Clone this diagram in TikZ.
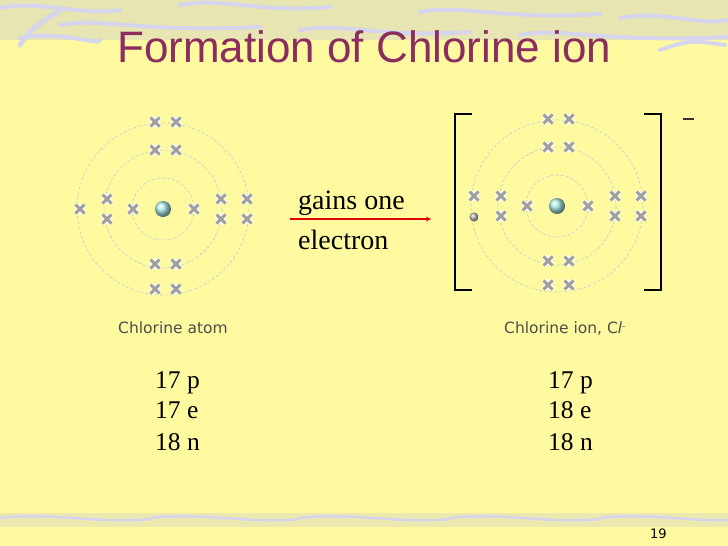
\documentclass[tikz,border=0pt]{standalone}
\usepackage{fontspec}
\setmainfont{Liberation Serif}
\newfontfamily\sans{DejaVu Sans}
\newfontfamily\titlef{Liberation Sans}
\begin{document}
\begin{tikzpicture}[x=1pt,y=-1pt,
  orbit/.style={draw=cyan!30!gray!50, dashed, dash pattern=on 3pt off 2pt, line width=0.6pt},
  xmark/.pic={\draw[white,line width=5pt] (-4.5,-4.5)--(4.5,4.5) (-4.5,4.5)--(4.5,-4.5);
              \draw[gray!75,line width=3pt] (-4.5,-4.5)--(4.5,4.5) (-4.5,4.5)--(4.5,-4.5);},
  lbl/.style={font=\sans\fontsize{15.5}{18}\selectfont, text=black!70, anchor=base west, inner sep=0},
  num/.style={font=\fontsize{25.5}{28}\selectfont, anchor=base west, inner sep=0, align=left}]
\definecolor{bg}{RGB}{255,250,160}
\definecolor{band}{RGB}{215,215,190}
\definecolor{titlec}{RGB}{140,45,95}
\fill[bg] (0,0) rectangle (728,546);
\useasboundingbox (0,0) rectangle (728,546);
% top decorative band
\fill[band!60!bg] (0,0) rectangle (728,40);
\foreach \a/\b/\c in {0/8/120,60/25/260,180/5/330,300/30/470,420/12/600,520/35/728,620/18/728,20/38/100}{
  \draw[band!70!blue!40,line width=4pt,line cap=round] (\a,\b) .. controls (\a+40,\b-8) and (\a+80,\b+8) .. (\c,\b+2);}
\draw[band!70!blue!40,line width=5pt,line cap=round] (20,45) .. controls (30,30) .. (60,10);
\draw[band!70!blue!40,line width=4pt,line cap=round] (660,50) .. controls (690,40) .. (725,45);
% bottom band
\fill[band!50!bg] (0,513) rectangle (728,527);
\foreach \a in {0,150,300,450,600}{
  \draw[band!70!blue!40,line width=2.5pt,line cap=round] (\a,518) .. controls (\a+50,512) and (\a+100,524) .. (\a+150,519);}
% title
\node[font=\titlef\fontsize{44}{48}\selectfont, text=titlec, anchor=base west, inner sep=0] (title) at (117,62) {Formation of Chlorine ion};
% left atom
\coordinate (A) at (163,209);
\draw[orbit] (A) circle (31);
\draw[orbit] (A) circle (59);
\draw[orbit] (A) circle (86);
\shade[ball color=gray!40!cyan!40] (A) circle (8);
\foreach \p in {(133,209),(194,209),(155,150),(176,150),(155,264),(176,264),(107,199),(107,219),(221,199),(221,219),
  (155,122),(176,122),(80,209),(247,199),(247,219),(155,289),(176,289)}{\pic at \p {xmark};}
% right atom
\coordinate (B) at (557,206);
\draw[orbit] (B) circle (31);
\draw[orbit] (B) circle (59);
\draw[orbit] (B) circle (86);
\shade[ball color=gray!40!cyan!40] (B) circle (8);
\foreach \p in {(527,206),(588,206),(548,147),(569,147),(548,261),(569,261),(501,196),(501,216),(615,196),(615,216),
  (548,119),(569,119),(474,196),(641,196),(641,216),(548,285),(569,285)}{\pic at \p {xmark};}
\shade[ball color=gray!60] (474,217) circle (4.5);
% brackets
\draw[black,line width=2.4pt] (472,114) -- (455,114) -- (455,290) -- (472,290);
\draw[black,line width=2.4pt] (644,114) -- (661,114) -- (661,290) -- (644,290);
\draw[black!80,line width=2.5pt] (683,119) -- (694,119);
% arrow
\node[font=\fontsize{28}{30}\selectfont, anchor=base west, inner sep=0] (g1) at (298,209) {gains one};
\node[font=\fontsize{28}{30}\selectfont, anchor=base west, inner sep=0] (g2) at (298,249) {electron};
\coordinate (a1) at (290,219); \coordinate (a2) at (431,219);
\draw[red!85!black, line width=1.2pt, -stealth] (a1) -- (a2);
% labels
\node[lbl] (la) at (118,333) {Chlorine atom};
\node[lbl] (lb) at (504,333) {Chlorine ion, C\textit{l}\raisebox{4pt}{\fontsize{9}{9}\selectfont -}};
\node[num] (n1) at (155,388) {17 p};
\node[num] (n2) at (155,418) {17 e};
\node[num] (n3) at (155,450) {18 n};
\node[num] (m1) at (548,388) {17 p};
\node[num] (m2) at (548,418) {18 e};
\node[num] (m3) at (548,450) {18 n};
\node[font=\sans\fontsize{13}{14}\selectfont, anchor=base west, inner sep=0] (pg) at (650,538) {19};
\end{tikzpicture}
\end{document}
